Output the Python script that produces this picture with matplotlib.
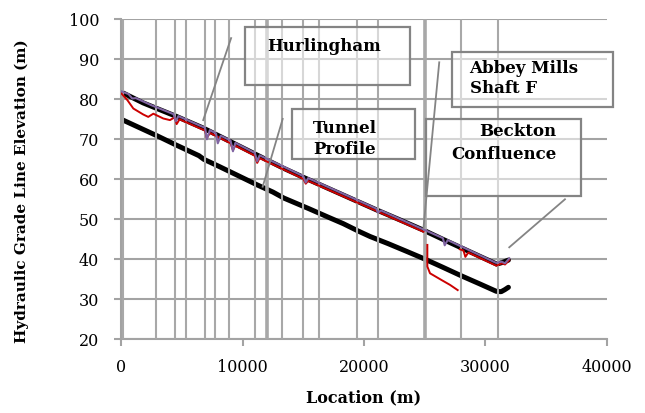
import numpy as np
import matplotlib.pyplot as plt
from matplotlib.patches import Rectangle

# shaft locations (m) drawn as vertical lines
shaft_x = [100, 2890, 4420, 5310, 6860, 7720, 8840, 11050, 13230, 15010,
           16280, 19430, 21130, 27990, 31030]
shaft_thick_x = [12000, 25000]

# tunnel profile (lower black line)
tunnel_x = [0, 1500, 3000, 4500, 6400, 6800, 8000, 9500, 11200, 12500, 13400,
            15500, 17000, 18300, 19500, 20500, 22000, 23500, 24900, 26500,
            28000, 29500, 30900, 31300, 31600, 31900]
tunnel_y = [75.0, 72.9, 70.8, 68.6, 65.9, 65.0, 63.3, 61.1, 58.6, 56.8, 55.3,
            52.6, 50.6, 48.9, 47.1, 45.7, 43.9, 42.0, 40.2, 38.0,
            35.9, 33.9, 32.0, 31.9, 32.4, 33.0]

# maximum hydraulic grade line (upper black line)
hgl_x = [0, 1800, 4560, 6760, 9000, 11430, 13350, 15000, 17000, 18850, 21000,
         23000, 24890, 26500, 28000, 29500, 30940, 31400, 31900]
hgl_y = [81.8, 79.1, 75.7, 72.8, 69.4, 65.7, 62.8, 60.5, 57.8, 55.3, 52.4,
         49.8, 47.3, 45.0, 42.9, 40.8, 38.8, 39.2, 39.8]

# purple run
purple_x = [0, 600, 900, 1200, 2500, 4300, 4500, 4700, 6500, 6900, 7050, 7300,
            7800, 7950, 8200, 9000, 9200, 9400, 11000, 11200, 11400, 15000,
            15200, 15400, 21000, 21150, 21400, 26500, 26650, 26900, 30900,
            31350, 31620, 31970]
purple_y = [82.0, 81.3, 80.2, 80.3, 78.5, 76.3, 74.5, 75.8, 73.4, 72.9, 70.0,
            72.3, 71.5, 69.0, 70.9, 69.7, 67.0, 69.1, 66.6, 64.5, 66.0, 60.8,
            59.2, 60.3, 52.7, 51.7, 52.2, 45.3, 43.5, 44.8, 39.1,
            39.4, 39.0, 40.25]

# red run (breaks where the line is not drawn)
red_x = [0, 500, 990, 1810, 2220, 2640, 3460, 4010, 4400, 4560, 4800, 6500,
         6900, 7050, 7300, 9000, 9200, 9400, 11000, 11200, 11400, 15000, 15200,
         15400, 24900, np.nan, 25220, 25220, 25440, 26400, 27090, 27720, np.nan,
         27900, 28200, 28350, 28600, 30900, 31350, 31620, 31970]
red_y = [81.5, 79.8, 77.7, 76.2, 75.6, 76.4, 75.2, 74.8, 75.5, 73.8, 75.0,
         72.7, 72.2, 70.3, 71.6, 69.0, 67.3, 68.4, 65.9, 64.1, 65.3, 60.1,
         58.9, 59.6, 46.9, np.nan, 43.6, 38.2, 36.5, 34.8, 33.6, 32.3, np.nan,
         42.5, 42.2, 40.6, 41.7, 38.4, 39.0, 38.7, 39.8]

callout_text = ["Hurlingham", "Tunnel\nProfile", "Abbey Mills\nShaft F", "Beckton", "Confluence"]

grid_c = '#a3a3a3'
fig = plt.figure(figsize=(6.45, 4.13), dpi=100)
ax = fig.add_axes([0.18806, 0.17845, 0.75256, 0.77482])
ax.set_xlim(0, 40000)
ax.set_ylim(20, 100)
ax.set_xticks(np.arange(0, 40001, 10000))
ax.set_yticks(np.arange(20, 101, 10))
ax.yaxis.grid(True, color=grid_c, lw=1.5)
ax.set_axisbelow(True)
for s in ['top', 'right']:
    ax.spines[s].set_visible(False)
for s in ['left', 'bottom']:
    ax.spines[s].set_color(grid_c)
    ax.spines[s].set_linewidth(1.5)
ax.tick_params(axis='both', colors=grid_c, width=1.5, length=5,
               labelcolor='black', labelsize=11.5)
ax.tick_params(axis='y', pad=11)
ax.tick_params(axis='x', pad=9)
for lab in ax.get_xticklabels() + ax.get_yticklabels():
    lab.set_family('DejaVu Serif')

ax.plot(tunnel_x, tunnel_y, color='black', lw=3.6, zorder=2, solid_capstyle='round')
ax.plot(hgl_x, hgl_y, color='black', lw=3.6, zorder=2, solid_capstyle='round')

ax.vlines(shaft_x, 20, 100, color='#a8a8a8', lw=1.5, zorder=3)
ax.vlines(shaft_thick_x, 20, 100, color='#a8a8a8', lw=2.6, zorder=3)

ax.plot(red_x, red_y, color='#cc0000', lw=1.4, zorder=4)
ax.plot(purple_x, purple_y, color='#8064a2', lw=1.5, zorder=5)

# callout boxes (data coordinates)
box_c = '#848484'
boxes = [(10190, 83.6, 13600, 14.5), (14040, 65.0, 10160, 12.5),
         (27230, 78.15, 13270, 13.75), (25110, 55.8, 12750, 19.3)]
for (bx, by, bw, bh) in boxes:
    ax.add_patch(Rectangle((bx, by), bw, bh, facecolor=(1, 1, 1, 0.55),
                           edgecolor=box_c, lw=1.6, zorder=6, clip_on=False))
leaders = [((9050, 95.3), (6750, 74.8)), ((13300, 75.1), (11650, 58.15)),
           ((26200, 89.25), (24900, 47.8)), ((36560, 55.0), (31970, 43.0))]
for (p0, p1) in leaders:
    ax.plot([p0[0], p1[0]], [p0[1], p1[1]], color=box_c, lw=1.3, zorder=6,
            clip_on=False)

tkw = dict(family='DejaVu Serif', weight='bold', fontsize=12, zorder=7,
           linespacing=1.3)
ax.text(16700, 93.1, callout_text[0], ha='center', va='center', **tkw)
ax.text(18400, 70.1, callout_text[1], ha='center', va='center', **tkw)
ax.text(28700, 85.2, callout_text[2], ha='left', va='center', multialignment='left', **tkw)
ax.text(32700, 71.9, callout_text[3], ha='center', va='center', **tkw)
ax.text(31550, 66.2, callout_text[4], ha='center', va='center', **tkw)

fig.text(364 / 645, 1 - 398 / 413, 'Location (m)', ha='center', va='center',
         family='DejaVu Serif', weight='bold', fontsize=11.5)
fig.text(22 / 645, 1 - 191 / 413, 'Hydraulic Grade Line Elevation (m)',
         ha='center', va='center', rotation=90,
         family='DejaVu Serif', weight='bold', fontsize=11)

fig.savefig('out.png', dpi=100)
